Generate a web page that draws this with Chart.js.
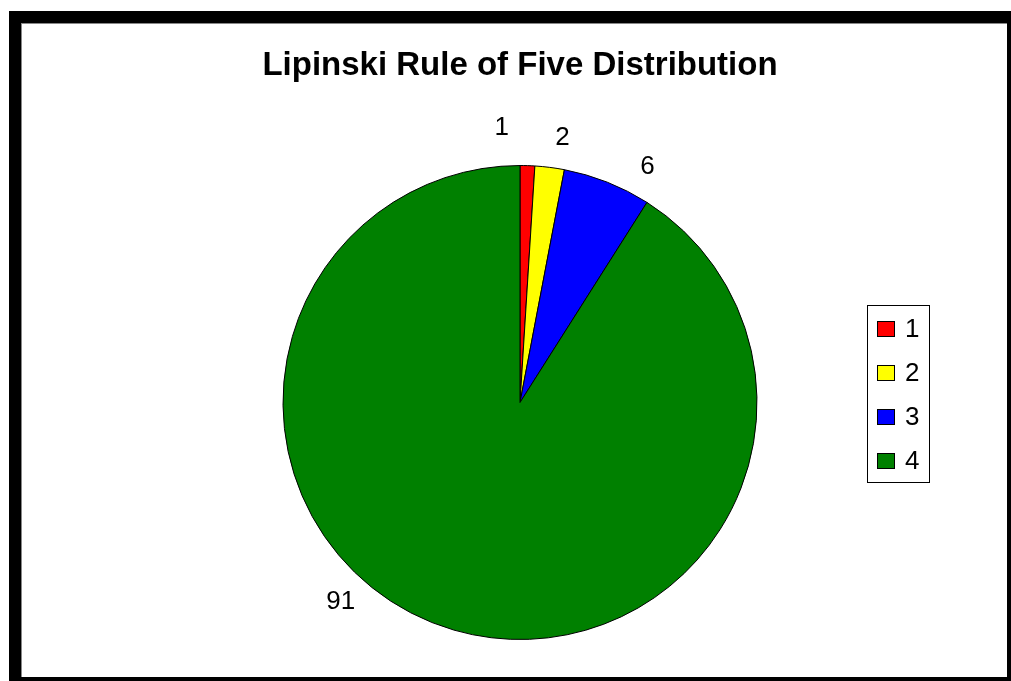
<!DOCTYPE html>
<html>
<head>
<meta charset="utf-8">
<script src="https://cdn.jsdelivr.net/npm/chart.js@4"></script>
<style>
  html, body { margin: 0; padding: 0; background: #fff; }
  body { width: 1011px; height: 681px; position: relative; overflow: hidden; }
  #frame { position: absolute; left: 9px; top: 11px; width: 1002px; height: 670px; background: #000; }
  #inner { position: absolute; left: 12px; top: 12px; width: 986px; height: 654px; background: #fff; box-shadow: inset 1px 1px 0 #888; }
  #wrap { position: absolute; left: 0; top: 0; width: 1011px; height: 681px; }
</style>
</head>
<body>
<div id="frame"><div id="inner"></div></div>
<div id="wrap"><canvas id="lipinskiChart"></canvas></div>
<script>
const categories = ['1', '2', '3', '4']
const counts = [1, 2, 6, 91]
const sliceColors = ['#ff0000', '#ffff00', '#0000ff', '#008000']

// value labels outside the pie, nudged the way the original tool placed them
const outsideLabels = {
    id: 'outsideLabels',
    afterDatasetsDraw(chart, args, opts) {
        const ctx = chart.ctx
        const arcs = chart.getDatasetMeta(0).data
        ctx.save()
        ctx.font = '26px "Liberation Sans", Arial, sans-serif'
        ctx.fillStyle = '#000'
        ctx.textAlign = 'center'
        ctx.textBaseline = 'middle'
        arcs.forEach((arc, i) => {
            const p = arc.getProps(['x', 'y', 'startAngle', 'endAngle', 'outerRadius'], true)
            const a = (p.startAngle + p.endAngle) / 2 + opts.shift[i] * Math.PI / 180
            const r = p.outerRadius + opts.gap[i]
            ctx.fillText(String(chart.data.datasets[0].data[i]), p.x + Math.cos(a) * r, p.y + Math.sin(a) * r)
        })
        ctx.restore()
    }
}

// boxed legend on the right
const boxLegend = {
    id: 'boxLegend',
    afterDraw(chart, args, opts) {
        const ctx = chart.ctx
        ctx.save()
        ctx.strokeStyle = '#000'
        ctx.lineWidth = 1
        ctx.strokeRect(opts.x + 0.5, opts.y + 0.5, opts.w, opts.h)
        ctx.font = '26px "Liberation Sans", Arial, sans-serif'
        ctx.textBaseline = 'middle'
        chart.data.labels.forEach((lab, i) => {
            const cy = opts.y + opts.first + i * opts.step
            ctx.fillStyle = chart.data.datasets[0].backgroundColor[i]
            ctx.fillRect(opts.x + 10, cy - 8, 17, 15)
            ctx.strokeRect(opts.x + 10.5, cy - 7.5, 17, 15)
            ctx.fillStyle = '#000'
            ctx.fillText(lab, opts.x + 38, cy + 1)
        })
        ctx.restore()
    }
}

new Chart(document.getElementById('lipinskiChart'), {
    type: 'pie',
    data: {
        labels: categories,
        datasets: [{
            data: counts,
            backgroundColor: sliceColors,
            borderColor: '#000',
            borderWidth: 1
        }]
    },
    options: {
        responsive: true,
        maintainAspectRatio: false,
        animation: false,
        layout: { padding: { left: 80, right: 51, top: 46, bottom: 41 } },
        plugins: {
            legend: { display: false },
            tooltip: { enabled: false },
            title: {
                display: true,
                text: 'Lipinski Rule of Five Distribution',
                color: '#000',
                font: { family: '"Liberation Sans", Arial, sans-serif', size: 33, weight: 'bold' },
                padding: { top: 0, bottom: 79.4 }
            },
            outsideLabels: { shift: [-5.6, 1.9, 6.8, 25.8], gap: [38, 31, 31, 31] },
            boxLegend: { x: 867, y: 305, w: 62, h: 177, first: 24, step: 44 }
        }
    },
    plugins: [outsideLabels, boxLegend]
})
</script>
</body>
</html>
